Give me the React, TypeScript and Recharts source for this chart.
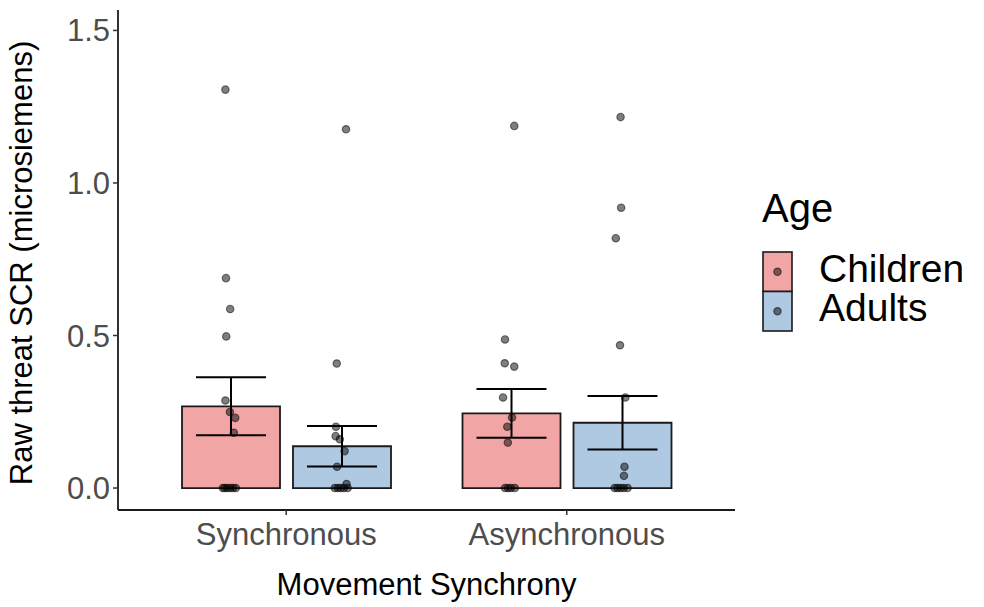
import React from 'react';
import {
  ComposedChart, Bar, Scatter, XAxis, YAxis, ErrorBar, Legend, Label,
} from 'recharts';

const FONT = '"Liberation Sans", Arial, sans-serif';

// categories and series
const categories = ['Synchronous', 'Asynchronous'];
const seriesNames = ['Children', 'Adults'];
const seriesColors = ['#F2A5A5', '#AFC9E3'];
const childMeans = [0.268, 0.245];
const adultMeans = [0.137, 0.214];
const childSE = [0.095, 0.080];
const adultSE = [0.066, 0.088];

const yTicks = [0, 0.5, 1.0, 1.5];

// individual points (x = position on a 1..2 category scale incl. jitter, y = value)
const syncChildX = [0.783, 0.785, 0.800, 0.786, 0.783, 0.799, 0.818, 0.813, 0.774, 0.781, 0.790, 0.800, 0.810, 0.820];
const syncChildY = [1.306, 0.688, 0.587, 0.497, 0.287, 0.249, 0.230, 0.181, 0, 0, 0, 0, 0, 0];
const syncAdultX = [1.213, 1.180, 1.177, 1.176, 1.191, 1.208, 1.181, 1.215, 1.173, 1.184, 1.194, 1.205, 1.219];
const syncAdultY = [1.176, 0.408, 0.201, 0.170, 0.160, 0.121, 0.070, 0.013, 0, 0, 0, 0, 0];
const asyncChildX = [1.813, 1.780, 1.779, 1.813, 1.773, 1.805, 1.788, 1.790, 1.780, 1.791, 1.801, 1.815];
const asyncChildY = [1.187, 0.487, 0.409, 0.398, 0.297, 0.231, 0.201, 0.149, 0, 0, 0, 0];
const asyncAdultX = [2.192, 2.194, 2.175, 2.190, 2.209, 2.206, 2.204, 2.171, 2.181, 2.192, 2.203, 2.217];
const asyncAdultY = [1.216, 0.919, 0.819, 0.468, 0.297, 0.070, 0.040, 0, 0, 0, 0, 0];

const barData = categories.map((c, i) => ({
  cond: c,
  children: childMeans[i],
  adults: adultMeans[i],
  childErr: childSE[i],
  adultErr: adultSE[i],
}));

const toPts = (xs: number[], ys: number[]) => xs.map((x, i) => ({ x, y: ys[i] }));
const pointGroups = [
  toPts(syncChildX, syncChildY),
  toPts(syncAdultX, syncAdultY),
  toPts(asyncChildX, asyncChildY),
  toPts(asyncAdultX, asyncAdultY),
];

const Dot = (props: any) => {
  const { cx, cy } = props;
  if (cx == null || cy == null) return null;
  return (
    <circle cx={cx} cy={cy} r={3.7} fill="#000" fillOpacity={0.5}
      stroke="#000" strokeOpacity={0.5} strokeWidth={1.2} />
  );
};

const LegendContent = (props: any) => {
  const payload = (props.payload || [])
    .filter((p: any) => seriesNames.includes(p.value))
    .sort((a: any, b: any) => seriesNames.indexOf(a.value) - seriesNames.indexOf(b.value));
  return (
    <svg width={230} height={160} style={{ display: 'block' }}>
      <text x={12} y={37} fontSize={40} fontFamily={FONT} fill="#000">Age</text>
      {payload.map((p: any, i: number) => {
        const top = 67 + i * 39.5;
        return (
          <g key={p.value}>
            <rect x={13} y={top} width={29} height={39.5}
              fill={p.color} stroke="#1a1a1a" strokeWidth={1.6} />
            <circle cx={27.5} cy={top + 19.75} r={3.7} fill="#000" fillOpacity={0.5}
              stroke="#000" strokeOpacity={0.5} strokeWidth={1.2} />
            <text x={69} y={top + 29.5} fontSize={39} fontFamily={FONT} fill="#000">{p.value}</text>
          </g>
        );
      })}
    </svg>
  );
};

const YTitle = () => (
  <text x={0} y={0} transform="translate(32,263) rotate(-90)" textAnchor="middle"
    fontSize={31} fontFamily={FONT} fill="#000">
    Raw threat SCR (microsiemens)
  </text>
);

export default function App() {
  return (
    <div style={{ position: 'absolute', left: 0, top: 0, width: 984, height: 607, background: '#fff' }}>
      <ComposedChart width={984} height={607} data={barData}
        margin={{ top: 10, right: 249, bottom: 0, left: 58 }}
        barGap={13} barSize={98}>
        <XAxis dataKey="cond" xAxisId="cat" type="category" height={97}
          padding={{ left: 28, right: 28 }}
          axisLine={{ stroke: '#1a1a1a', strokeWidth: 1.8 }}
          tickLine={{ stroke: '#333', strokeWidth: 1.5 }} tickSize={5} tickMargin={8}
          tick={{ fontSize: 31, fontFamily: FONT, fill: '#4D4D4D' }}>
          <Label value="Movement Synchrony" position="insideBottom" offset={12}
            style={{ fontSize: 31, fontFamily: FONT, fill: '#000' }} />
        </XAxis>
        <XAxis dataKey="x" xAxisId="jit" type="number" domain={[0.4, 2.6]}
          allowDataOverflow hide />
        <YAxis type="number" domain={[-0.072, 1.567]} allowDataOverflow ticks={yTicks}
          width={60} tickFormatter={(v: number) => v.toFixed(1)}
          axisLine={{ stroke: '#1a1a1a', strokeWidth: 1.8 }}
          tickLine={{ stroke: '#333', strokeWidth: 1.5 }} tickSize={5} tickMargin={3}
          tick={{ fontSize: 31, fontFamily: FONT, fill: '#4D4D4D' }}>
          <Label content={<YTitle />} />
        </YAxis>
        <Legend layout="vertical" align="center" verticalAlign="middle"
          content={<LegendContent />}
          wrapperStyle={{ left: 750, top: 185, width: 230, height: 160 }} />
        <Bar xAxisId="cat" dataKey="children" name={seriesNames[0]} fill={seriesColors[0]}
          stroke="#1a1a1a" strokeWidth={1.8} isAnimationActive={false}>
          <ErrorBar dataKey="childErr" width={35} stroke="#000" strokeWidth={2} direction="y" />
        </Bar>
        <Bar xAxisId="cat" dataKey="adults" name={seriesNames[1]} fill={seriesColors[1]}
          stroke="#1a1a1a" strokeWidth={1.8} isAnimationActive={false}>
          <ErrorBar dataKey="adultErr" width={35} stroke="#000" strokeWidth={2} direction="y" />
        </Bar>
        {pointGroups.map((g, i) => (
          <Scatter key={i} xAxisId="jit" data={g} dataKey="y" legendType="none"
            shape={<Dot />} isAnimationActive={false} />
        ))}
      </ComposedChart>
    </div>
  );
}
